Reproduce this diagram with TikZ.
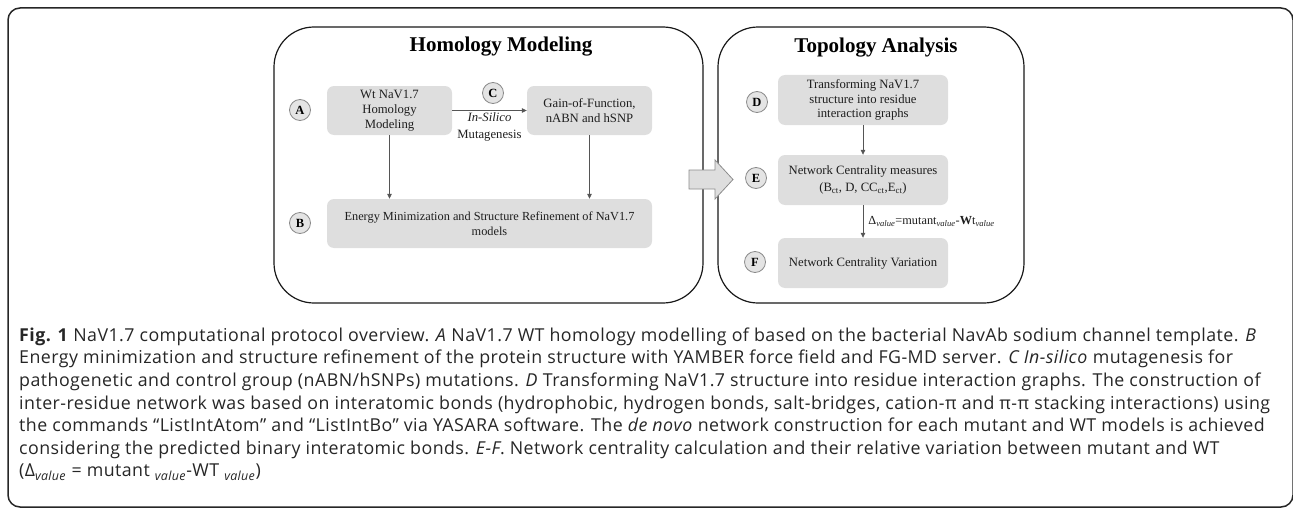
\documentclass[tikz,border=0pt]{standalone}
\usepackage{fontspec}
\setmainfont{Liberation Serif}
\newfontfamily\capfont[LetterSpace=2.5]{Open Sans}
\usetikzlibrary{arrows.meta, positioning}

\definecolor{boxgray}{HTML}{DEDEDE}
\definecolor{tagfill}{HTML}{E4E4E4}
\definecolor{tagline}{HTML}{8A8A8A}
\definecolor{linkgray}{HTML}{555555}
\definecolor{inkgray}{HTML}{1E1E1E}

\tikzset{
  panel/.style={draw=black!90, line width=1.2pt, rounded corners=40pt},
  box/.style={fill=boxgray, rounded corners=7pt, align=center, text=inkgray,
    font=\fontsize{12.7}{14.8}\selectfont, inner sep=0pt},
  tag/.style={circle, draw=tagline, fill=tagfill, line width=0.8pt,
    minimum size=21pt, inner sep=0pt, font=\fontsize{12.5}{12.5}\selectfont\bfseries},
  link/.style={draw=linkgray, line width=0.8pt, -{Triangle[length=5pt,width=4.5pt]}},
  title/.style={font=\fontsize{21}{21}\selectfont\bfseries},
  capline/.style={anchor=mid west, inner sep=0pt, text=black!85,
    font=\capfont\fontsize{17.8}{20}\selectfont}
}

\begin{document}
\begin{tikzpicture}[x=1pt,y=-1pt]
  \useasboundingbox (0,0) rectangle (1293,511);

  % Outer frame
  \draw[line width=1.5pt, black!85, rounded corners=12pt] (8,8) rectangle (1293,507);

  % Panels
  \draw[panel] (274,27) rectangle (703,303);
  \draw[panel] (718,27) rectangle (1024,303);
  \node[title] (homtitle) at (501,47) {Homology Modeling};
  \node[title] (toptitle) at (876,48) {Topology Analysis};

  % Homology modeling boxes
  \node[box, minimum width=125pt, minimum height=49pt] (wt) at (389.5,110.5)
    {Wt NaV1.7\\Homology\\Modeling};
  \node[box, minimum width=125pt, minimum height=49pt] (gof) at (589.5,110.5)
    {Gain-of-Function,\\nABN and hSNP};
  \node[box, minimum width=325pt, minimum height=49pt,
    font=\fontsize{12.3}{15}\selectfont] (emin) at (489.5,223.5)
    {Energy Minimization and Structure Refinement of NaV1.7\\models};
  \node[tag] (tagA) at (300,110) {A};
  \node[tag] (tagC) at (493,93) {C};
  \node[tag] (tagB) at (300,223) {B};

  \draw[link] (wt.east) -- node[below, align=center, inner sep=2pt,
    font=\fontsize{12.7}{17}\selectfont, text=inkgray]
    {\textit{In-Silico}\\Mutagenesis} (gof.west);
  \draw[link] (wt.south) -- (wt.south |- emin.north);
  \draw[link] (gof.south) -- (gof.south |- emin.north);

  % Topology analysis boxes
  \node[box, minimum width=170pt, minimum height=50pt,
    font=\fontsize{12.7}{14.5}\selectfont] (trans) at (863,100)
    {Transforming NaV1.7\\structure into residue\\interaction graphs};
  \node[box, minimum width=170pt, minimum height=50pt,
    font=\fontsize{12.7}{16.5}\selectfont] (cent) at (863,180)
    {Network Centrality measures\\(B\textsubscript{ct}, D, CC\textsubscript{ct},E\textsubscript{ct})};
  \node[box, minimum width=170pt, minimum height=50pt] (var) at (863,263)
    {Network Centrality Variation};
  \node[tag] (tagD) at (757,102) {D};
  \node[tag] (tagE) at (756,178) {E};
  \node[tag] (tagF) at (755,262) {F};

  \draw[link] (trans) -- (cent);
  \draw[link] (cent) -- node[right, inner sep=5pt, text=inkgray,
    font=\fontsize{12.3}{12}\selectfont]
    {Δ\textsubscript{\textit{value}}=mutant\textsubscript{\textit{value}}-\textbf{W}t\textsubscript{\textit{value}}} (var);

  % Block arrow between panels
  \draw[fill=boxgray, draw=black!45, line width=0.8pt]
    (689,170) -- (715,170) -- (715,160) -- (733,179.5)
    -- (715,199) -- (715,189) -- (689,189) -- cycle;

  % Caption
  \node[capline] (cap1) at (19,339) {\textbf{Fig. 1} NaV1.7 computational protocol overview. \textit{A} NaV1.7 WT homology modelling of based on the bacterial NavAb sodium channel template. \textit{B}};
  \node[capline] (cap2) at (19,361.6) {Energy minimization and structure refinement of the protein structure with YAMBER force field and FG-MD server. \textit{C In-silico} mutagenesis for};
  \node[capline] (cap3) at (19,384.2) {pathogenetic and control group (nABN/hSNPs) mutations. \textit{D} Transforming NaV1.7 structure into residue interaction graphs. The construction of};
  \node[capline] (cap4) at (19,406.8) {inter-residue network was based on interatomic bonds (hydrophobic, hydrogen bonds, salt-bridges, cation-π and π-π stacking interactions) using};
  \node[capline] (cap5) at (19,429.4) {the commands “ListIntAtom” and “ListIntBo” via YASARA software. The \textit{de novo} network construction for each mutant and WT models is achieved};
  \node[capline] (cap6) at (19,452) {considering the predicted binary interatomic bonds. \textit{E-F}. Network centrality calculation and their relative variation between mutant and WT};
  \node[capline] (cap7) at (19,474.6) {(Δ\textsubscript{\textit{value}} = mutant \textsubscript{\textit{value}}-WT \textsubscript{\textit{value}})};
\end{tikzpicture}
\end{document}
